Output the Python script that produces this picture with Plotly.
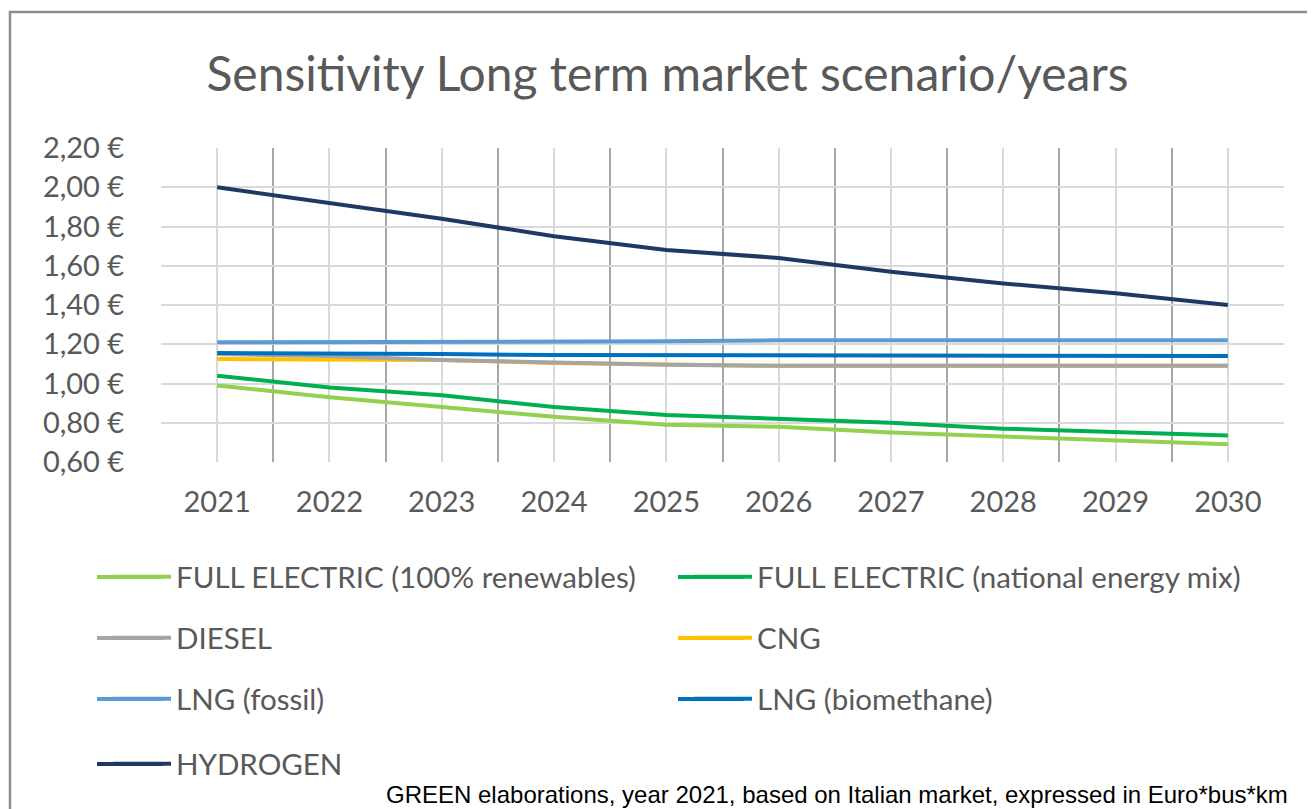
import plotly.graph_objects as go

# ---------------- data ----------------
years = [2021, 2022, 2023, 2024, 2025, 2026, 2027, 2028, 2029, 2030]
year_labels = ["2021", "2022", "2023", "2024", "2025", "2026", "2027", "2028", "2029", "2030"]

full_electric_renewables = [0.99, 0.93, 0.88, 0.83, 0.79, 0.78, 0.75, 0.73, 0.71, 0.69]
full_electric_mix = [1.04, 0.98, 0.94, 0.88, 0.84, 0.82, 0.80, 0.77, 0.75, 0.735]
diesel = [1.15, 1.14, 1.12, 1.105, 1.095, 1.09, 1.09, 1.09, 1.09, 1.09]
cng = [1.125, 1.125, 1.12, 1.105, 1.095, 1.09, 1.09, 1.09, 1.09, 1.09]
lng_fossil = [1.21, 1.21, 1.21, 1.21, 1.215, 1.22, 1.22, 1.22, 1.22, 1.22]
lng_biomethane = [1.155, 1.155, 1.15, 1.145, 1.145, 1.14, 1.14, 1.14, 1.14, 1.14]
hydrogen = [2.00, 1.92, 1.84, 1.75, 1.68, 1.64, 1.57, 1.51, 1.46, 1.40]

y_tickvals = [0.6, 0.8, 1.0, 1.2, 1.4, 1.6, 1.8, 2.0, 2.2]
y_ticktext = ["0,60 €", "0,80 €", "1,00 €", "1,20 €", "1,40 €", "1,60 €", "1,80 €", "2,00 €", "2,20 €"]

series_names = [
    "FULL ELECTRIC (100% renewables)",
    "FULL ELECTRIC (national energy mix)",
    "DIESEL",
    "CNG",
    "LNG (fossil)",
    "LNG (biomethane)",
    "HYDROGEN",
]
series_values = [full_electric_renewables, full_electric_mix, diesel, cng,
                 lng_fossil, lng_biomethane, hydrogen]
series_colors = ["#92d050", "#00b050", "#a5a5a5", "#ffc000", "#5b9bd5", "#0070c0", "#1f3864"]
legend_ids = ["legend", "legend", "legend2", "legend2", "legend3", "legend3", "legend4"]
legend_row = [0, 0, 1, 1, 2, 2, 3]
legend_col = [0, 1, 0, 1, 0, 1, 0]
draw_order = [3, 0, 1, 2, 4, 5, 6]  # CNG drawn underneath

# ---------------- layout geometry (screen px; page body has an 8px margin) ----------------
OFF = 8
W, H = 1315 - OFF, 809 - OFF
SL, SR, ST, SB = 161, 1284, 148, 462          # plot area on screen
PL, PR, PT, PB = SL - OFF, SR - OFF, ST - OFF, SB - OFF

def px_x(sx):
    return (sx - OFF - PL) / (PR - PL)

def px_y(sy):
    return (PB - (sy - OFF)) / (PB - PT)

FONT = "Lato"
GRAY_TXT = "#595959"

fig = go.Figure()
for i in draw_order:
    fig.add_trace(go.Scatter(
        x=years, y=series_values[i], mode="lines", name=series_names[i],
        line=dict(color=series_colors[i], width=4),
        legend=legend_ids[i], legendrank=i + 1,
        hoverinfo="x+y+name",
    ))

legend_rows_y = [577, 638, 699, 764]
legend_cols_x = [97, 678]
LEG_LINE_LEN = 66
ITEMW = 58
legend_common = dict(
    orientation="h", xanchor="left", yanchor="middle",
    font=dict(family=FONT, size=29.5, color=GRAY_TXT),
    bgcolor="rgba(0,0,0,0)", entrywidth=508, entrywidthmode="pixels",
    itemwidth=ITEMW, traceorder="normal", borderwidth=0,
)
legend_x = px_x(108)

fig.update_layout(
    width=W, height=H,
    margin=dict(l=PL, r=W - PR, t=PT, b=H - PB),
    paper_bgcolor="white", plot_bgcolor="white",
    title=dict(
        text="Sensitivity Long term market scenario/years",
        x=(667.5 - OFF) / W, xref="container", xanchor="center",
        y=1 - (74.5 - OFF) / H, yref="container", yanchor="middle",
        font=dict(family=FONT, size=48, color=GRAY_TXT),
    ),
    legend=dict(x=legend_x, y=px_y(legend_rows_y[0]), **legend_common),
    legend2=dict(x=legend_x, y=px_y(legend_rows_y[1]), **legend_common),
    legend3=dict(x=legend_x, y=px_y(legend_rows_y[2]), **legend_common),
    legend4=dict(x=legend_x, y=px_y(legend_rows_y[3]), **legend_common),
    xaxis=dict(
        range=[2020.5, 2030.5], tickvals=years, ticktext=year_labels,
        showgrid=True, gridcolor="#d9d9d9", gridwidth=1.5,
        minor=dict(tick0=2020.5, dtick=1, showgrid=True, gridcolor="#a6a6a6", gridwidth=1.5),
        zeroline=False, showline=False,
        ticks="outside", ticklen=14, tickcolor="rgba(0,0,0,0)",
        tickfont=dict(family=FONT, size=29, color=GRAY_TXT),
    ),
    yaxis=dict(
        range=[0.6, 2.2], tickvals=y_tickvals, ticktext=y_ticktext,
        showgrid=True, gridcolor="#d9d9d9", gridwidth=1.5,
        zeroline=False, showline=False,
        ticks="outside", ticklen=30, tickcolor="rgba(0,0,0,0)",
        tickfont=dict(family=FONT, size=29, color=GRAY_TXT),
    ),
    showlegend=True,
)

# longer legend key lines (Excel style), centred on plotly's own legend keys
for i in range(len(series_names)):
    x0 = legend_cols_x[legend_col[i]]
    yy = px_y(legend_rows_y[legend_row[i]])
    fig.add_shape(type="line", xref="paper", yref="paper",
                  x0=px_x(x0), x1=px_x(x0 + LEG_LINE_LEN), y0=yy, y1=yy,
                  line=dict(color=series_colors[i], width=4), layer="above")

# outer chart border (top and left edges visible)
fig.add_shape(type="rect", xref="paper", yref="paper",
              x0=px_x(10), x1=px_x(1340), y0=px_y(840), y1=px_y(12),
              line=dict(color="#8c8c8c", width=2.5), fillcolor="rgba(0,0,0,0)",
              layer="below")

fig.add_annotation(
    text="GREEN elaborations, year 2021, based on Italian market, expressed in Euro*bus*km",
    xref="paper", yref="paper", x=px_x(1290), y=px_y(794),
    xanchor="right", yanchor="middle", showarrow=False,
    font=dict(family="Liberation Sans", size=24, color="black"),
)

fig.write_html("out.html")
